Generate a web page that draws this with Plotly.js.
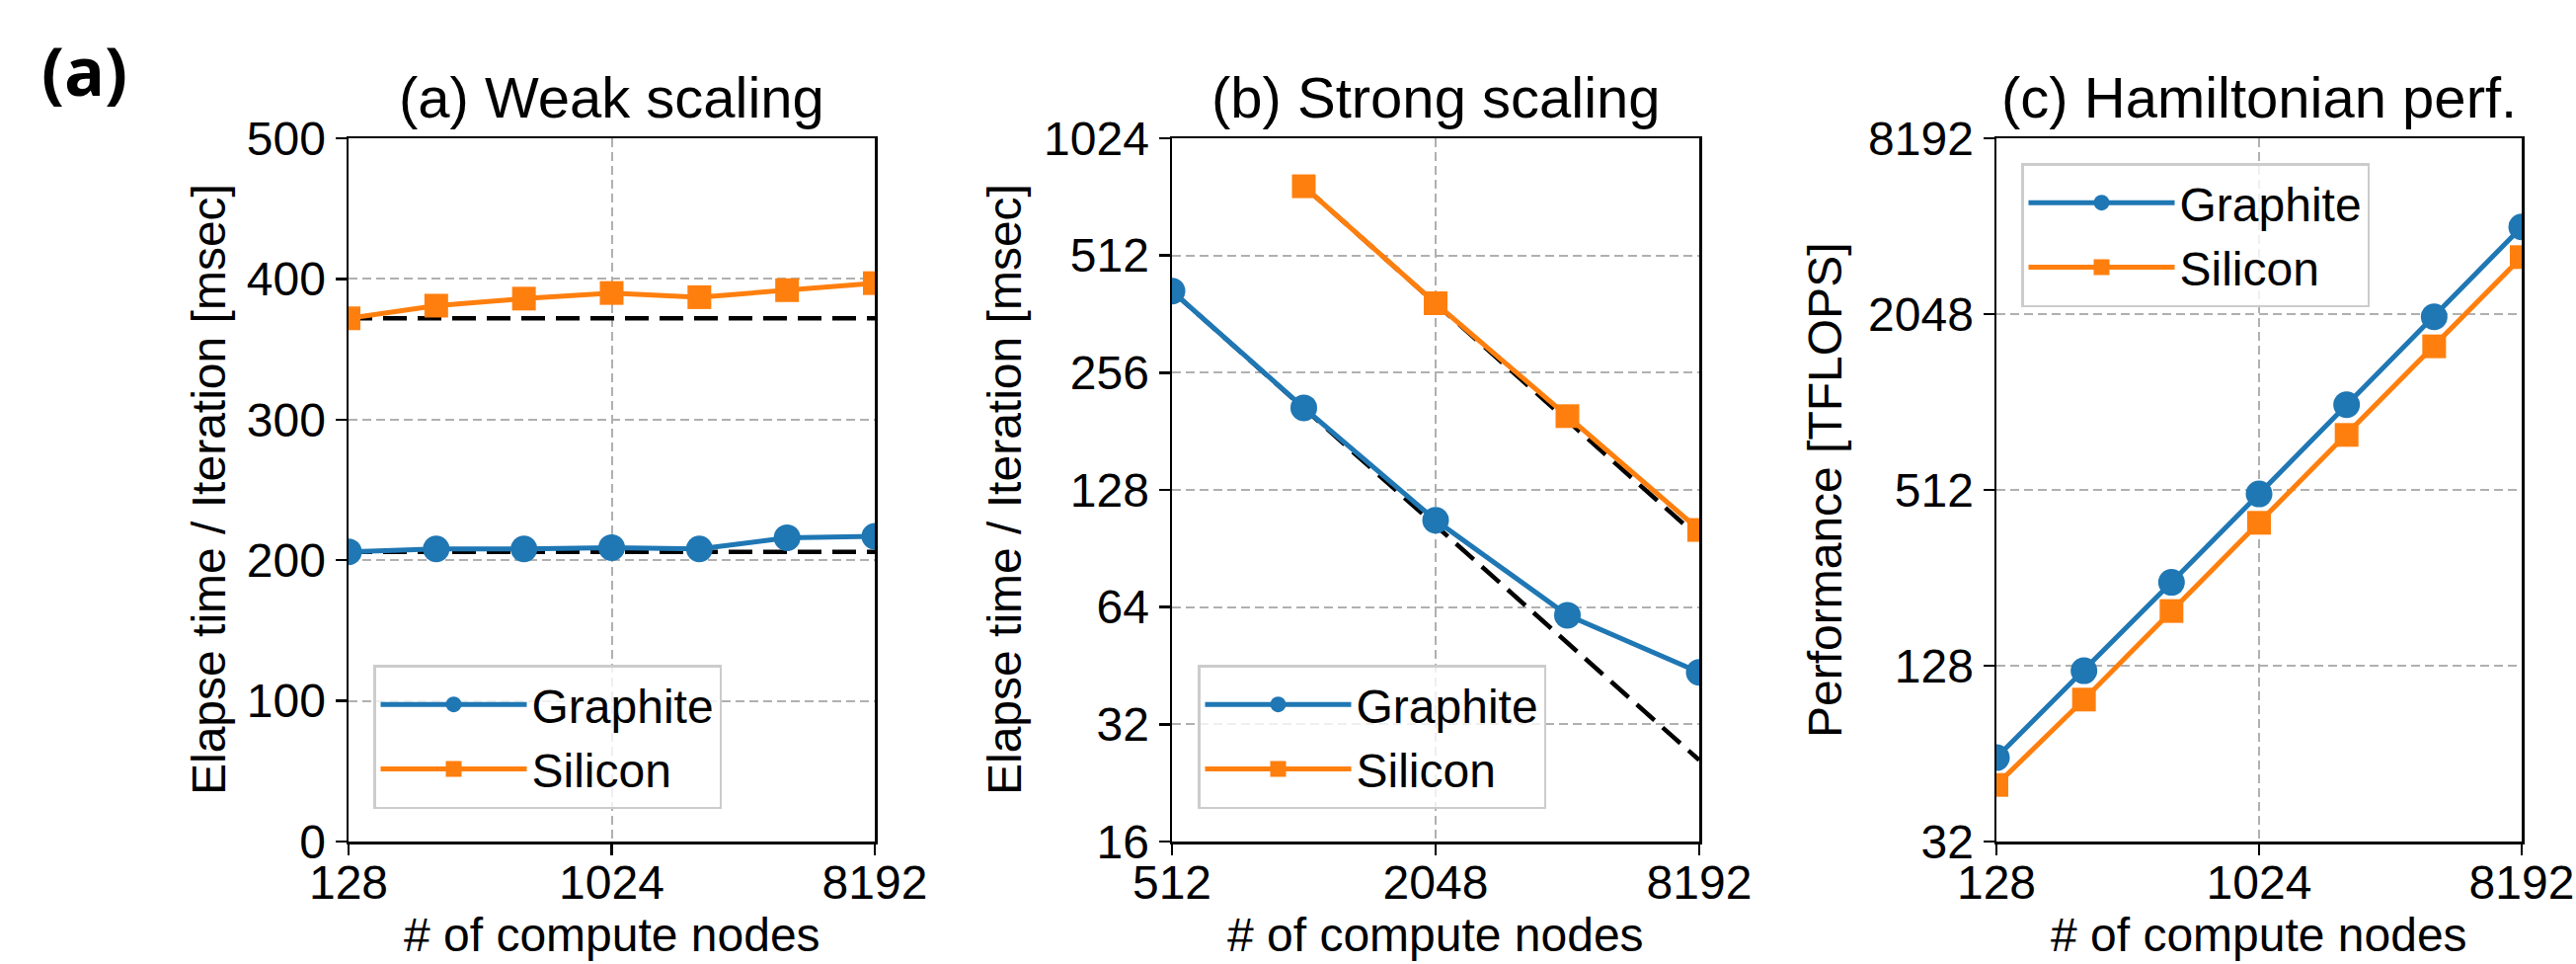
<!DOCTYPE html>
<html><head><meta charset="utf-8">
<script src="https://cdn.plot.ly/plotly-3.0.1.min.js"></script>
<style>html,body{margin:0;padding:0;background:#fff}</style>
</head><body>
<div id="chart" style="width:2609px;height:976px"></div>
<script>
// ---- data ----
const weakNodes = [128, 256, 512, 1024, 2048, 4096, 8192];
const weakGraphite = [206, 208, 208, 209, 208, 216, 217];
const weakSilicon = [372, 381, 386, 390, 387, 392, 397];
const weakGraphiteIdeal = [206, 206, 206, 206, 206, 206, 206];
const weakSiliconIdeal = [372, 372, 372, 372, 372, 372, 372];

const strongNodes = [512, 1024, 2048, 4096, 8192];
const strongGraphite = [415, 208, 107, 61, 43.5];
const strongGraphiteIdeal = [415, 207.5, 103.8, 51.9, 25.9];
const strongSiliconNodes = [1024, 2048, 4096, 8192];
const strongSilicon = [771, 386, 198, 101];
const strongSiliconIdeal = [771, 385.5, 192.8, 96.4];

const hamNodes = [128, 256, 512, 1024, 2048, 4096, 8192];
const hamGraphite = [62, 123, 247, 496, 1002, 2004, 4070];
const hamSilicon = [50, 98, 197, 395, 790, 1588, 3210];

const nodeTicksWide = [128, 1024, 8192];
const nodeTicksStrong = [512, 2048, 8192];
const weakYTicks = [0, 100, 200, 300, 400, 500];
const strongYTicks = [16, 32, 64, 128, 256, 512, 1024];
const hamYTicks = [32, 128, 512, 2048, 8192];

const panelTitles = ['(a) Weak scaling', '(b) Strong scaling', '(c) Hamiltonian perf.'];
const yTitles = ['Elapse time / Iteration [msec]', 'Elapse time / Iteration [msec]', 'Performance [TFLOPS]'];
const xTitle = '# of compute nodes';
const seriesNames = ['Graphite', 'Silicon'];

// ---- style ----
const BLUE = '#1f77b4', ORANGE = '#ff7f0e';
const FONT = 'Liberation Sans, Arial, Helvetica, sans-serif';
const W = 2609, H = 976;
const px = v => v / W, py = v => 1 - v / H;
const plotTop = 140, plotBottom = 852;
const xDom = [[353, 886], [1187, 1721], [2022, 2554]];

function line(color) { return {color: color, width: 5}; }
function dashLine() { return {color: '#000', width: 4.5, dash: '24px,11px'}; }
function mkCircle() { return {symbol: 'circle', size: 27, color: BLUE}; }
function mkSquare() { return {symbol: 'square', size: 24, color: ORANGE}; }

const traces = [
  // panel a
  {x: weakNodes, y: weakGraphiteIdeal, xaxis: 'x', yaxis: 'y', mode: 'lines', line: dashLine(), showlegend: false, hoverinfo: 'skip'},
  {x: weakNodes, y: weakSiliconIdeal, xaxis: 'x', yaxis: 'y', mode: 'lines', line: dashLine(), showlegend: false, hoverinfo: 'skip'},
  {x: weakNodes, y: weakGraphite, xaxis: 'x', yaxis: 'y', mode: 'lines+markers', name: seriesNames[0], line: line(BLUE), marker: mkCircle(), legend: 'legend'},
  {x: weakNodes, y: weakSilicon, xaxis: 'x', yaxis: 'y', mode: 'lines+markers', name: seriesNames[1], line: line(ORANGE), marker: mkSquare(), legend: 'legend'},
  // panel b
  {x: strongNodes, y: strongGraphiteIdeal, xaxis: 'x2', yaxis: 'y2', mode: 'lines', line: dashLine(), showlegend: false, hoverinfo: 'skip'},
  {x: strongSiliconNodes, y: strongSiliconIdeal, xaxis: 'x2', yaxis: 'y2', mode: 'lines', line: dashLine(), showlegend: false, hoverinfo: 'skip'},
  {x: strongNodes, y: strongGraphite, xaxis: 'x2', yaxis: 'y2', mode: 'lines+markers', name: seriesNames[0], line: line(BLUE), marker: mkCircle(), legend: 'legend2'},
  {x: strongSiliconNodes, y: strongSilicon, xaxis: 'x2', yaxis: 'y2', mode: 'lines+markers', name: seriesNames[1], line: line(ORANGE), marker: mkSquare(), legend: 'legend2'},
  // panel c
  {x: hamNodes, y: hamGraphite, xaxis: 'x3', yaxis: 'y3', mode: 'lines+markers', name: seriesNames[0], line: line(BLUE), marker: mkCircle(), legend: 'legend3'},
  {x: hamNodes, y: hamSilicon, xaxis: 'x3', yaxis: 'y3', mode: 'lines+markers', name: seriesNames[1], line: line(ORANGE), marker: mkSquare(), legend: 'legend3'}
];

function axisBase() {
  return {
    showline: true, mirror: true, linecolor: '#000', linewidth: 2.5,
    ticks: 'outside', ticklen: 11, tickwidth: 2.5, tickcolor: '#000',
    showgrid: true, gridcolor: '#b0b0b0', gridwidth: 2, griddash: '9px,5px',
    zeroline: false, tickfont: {family: FONT, size: 48, color: '#000'},
    fixedrange: true
  };
}
function xAxisBase() { return Object.assign(axisBase(), {ticklabelstandoff: -13}); }
function logRange(a, b) { return [Math.log10(a), Math.log10(b)]; }
function legendStyle(x, y) {
  return {x: px(x), y: py(y), xanchor: 'left', yanchor: 'top', xref: 'paper', yref: 'paper',
    bgcolor: 'rgba(255,255,255,0.8)', bordercolor: '#cccccc', borderwidth: 2.5,
    font: {family: FONT, size: 48, color: '#000'}, itemwidth: 148, tracegroupgap: 0, itemclick: false, itemdoubleclick: false};
}

const layout = {
  width: W, height: H,
  margin: {l: 0, r: 0, t: 0, b: 0},
  paper_bgcolor: '#fff', plot_bgcolor: '#fff',
  font: {family: FONT, size: 48, color: '#000'},
  showlegend: true,
  xaxis: Object.assign(xAxisBase(), {domain: [px(xDom[0][0]), px(xDom[0][1])], anchor: 'y', type: 'log',
    range: logRange(weakNodes[0], weakNodes[weakNodes.length - 1]), tickvals: nodeTicksWide, ticktext: nodeTicksWide.map(String)}),
  yaxis: Object.assign(axisBase(), {domain: [py(plotBottom), py(plotTop)], anchor: 'x', type: 'linear',
    range: [weakYTicks[0], weakYTicks[weakYTicks.length - 1]], tickvals: weakYTicks, ticktext: weakYTicks.map(String)}),
  xaxis2: Object.assign(xAxisBase(), {domain: [px(xDom[1][0]), px(xDom[1][1])], anchor: 'y2', type: 'log',
    range: logRange(strongNodes[0], strongNodes[strongNodes.length - 1]), tickvals: nodeTicksStrong, ticktext: nodeTicksStrong.map(String)}),
  yaxis2: Object.assign(axisBase(), {domain: [py(plotBottom), py(plotTop)], anchor: 'x2', type: 'log',
    range: logRange(strongYTicks[0], strongYTicks[strongYTicks.length - 1]), tickvals: strongYTicks, ticktext: strongYTicks.map(String)}),
  xaxis3: Object.assign(xAxisBase(), {domain: [px(xDom[2][0]), px(xDom[2][1])], anchor: 'y3', type: 'log',
    range: logRange(hamNodes[0], hamNodes[hamNodes.length - 1]), tickvals: nodeTicksWide, ticktext: nodeTicksWide.map(String)}),
  yaxis3: Object.assign(axisBase(), {domain: [py(plotBottom), py(plotTop)], anchor: 'x3', type: 'log',
    range: logRange(hamYTicks[0], hamYTicks[hamYTicks.length - 1]), tickvals: hamYTicks, ticktext: hamYTicks.map(String)}),
  legend: legendStyle(378, 673),
  legend2: legendStyle(1213, 673),
  legend3: legendStyle(2047, 165),
  annotations: []
};

// subplot titles and axis titles
const yTitleX = [211, 1017, 1848];
for (let i = 0; i < 3; i++) {
  const cx = (xDom[i][0] + xDom[i][1]) / 2;
  layout.annotations.push({text: panelTitles[i], xref: 'paper', yref: 'paper', x: px(cx), y: py(99),
    xanchor: 'center', yanchor: 'middle', showarrow: false, font: {family: FONT, size: 58, color: '#000'}});
  layout.annotations.push({text: xTitle, xref: 'paper', yref: 'paper', x: px(cx), y: py(946),
    xanchor: 'center', yanchor: 'middle', showarrow: false, font: {family: FONT, size: 48, color: '#000'}});
  layout.annotations.push({text: yTitles[i], xref: 'paper', yref: 'paper', x: px(yTitleX[i]), y: py((plotTop + plotBottom) / 2),
    xanchor: 'center', yanchor: 'middle', textangle: -90, showarrow: false, font: {family: FONT, size: 48, color: '#000'}});
}
layout.annotations.push({text: '<b>(a)</b>', xref: 'paper', yref: 'paper', x: px(85), y: py(70),
  xanchor: 'center', yanchor: 'middle', showarrow: false, font: {family: 'Open Sans, sans-serif', size: 68, color: '#000'}});

Plotly.newPlot('chart', traces, layout, {staticPlot: true, displayModeBar: false});
</script>
</body></html>
